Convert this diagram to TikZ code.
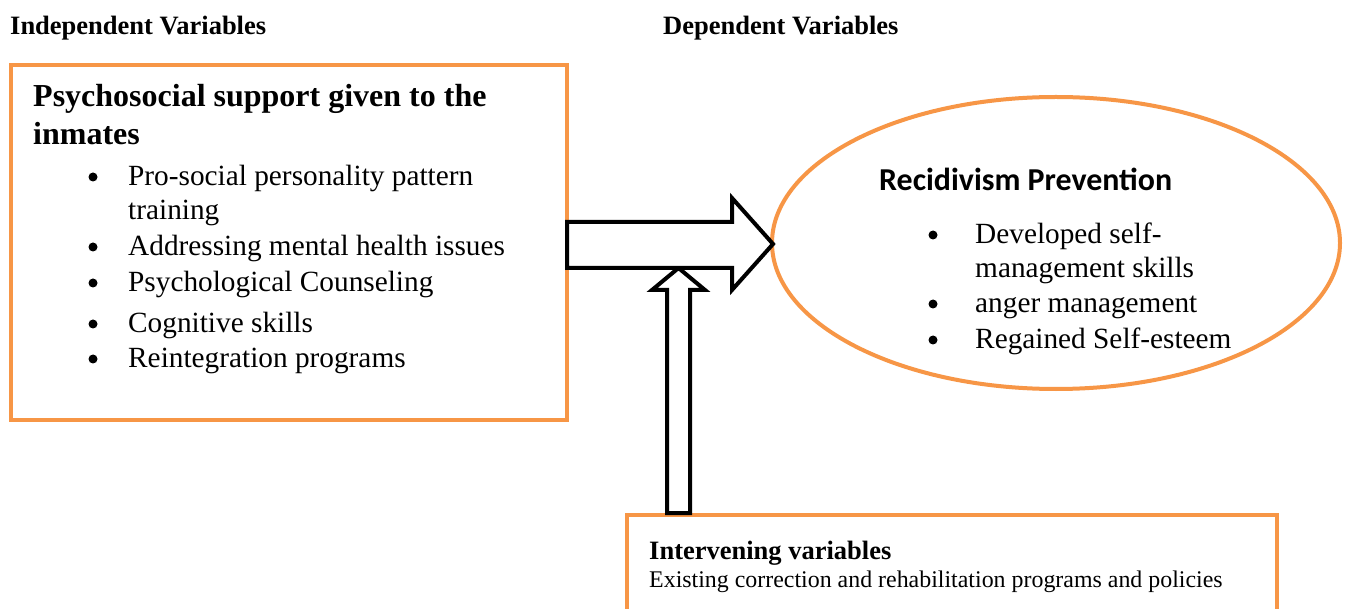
\documentclass[tikz,border=0pt]{standalone}
\usepackage{fontspec}
\setmainfont{Liberation Serif}
\newfontfamily\calib{Carlito}
\usetikzlibrary{calc}
\definecolor{orng}{HTML}{F79646}
\tikzset{
  box/.style={draw=orng, line width=4pt},
  blockarrow/.style={draw=black, fill=white, line width=4pt, line join=miter},
  txt/.style={anchor=base west, inner sep=0pt, text=black},
  hdr/.style={txt, font=\fontsize{26.5}{30}\selectfont\bfseries},
  ttl/.style={txt, font=\fontsize{32}{37}\selectfont\bfseries},
  body/.style={txt, font=\fontsize{29.3}{34}\selectfont},
  dot/.style={circle, fill=black, inner sep=0pt, minimum size=9pt}
}
\begin{document}
\begin{tikzpicture}[x=1pt,y=-1pt]
\useasboundingbox (0,0) rectangle (1349,609);
\clip (0,0) rectangle (1349,609);
\fill[white] (0,0) rectangle (1349,609);

% headers
\node[hdr] (hind) at (10,35) {Independent Variables};
\node[hdr] (hdep) at (663,35) {Dependent Variables};

% left box
\draw[box] (11,65) rectangle (567,420);
\node[ttl] (t1) at (33,107) {Psychosocial support given to the};
\node[ttl] (t2) at (33,145) {inmates};
\foreach \y/\t/\b [count=\i] in {186/Pro-social personality pattern/1, 220/training/0, 256/Addressing mental health issues/1, 292/Psychological Counseling/1, 333/Cognitive skills/1, 368/Reintegration programs/1}{
  \node[body] (l\i) at (128,\y) {\t};
  \ifnum\b=1 \node[dot] (ld\i) at (93,\y-9) {};\fi
}

% ellipse
\draw[box] (1056,243) ellipse [x radius=284, y radius=146];
\node[txt, font=\fontsize{31.9}{36}\selectfont\calib\bfseries] (rp) at (879,191) {Recidivism Prevention};
\foreach \y/\t/\b [count=\i] in {244/Developed self-/1, 278/management skills/0, 313/anger management/1, 349/Regained Self-esteem/1}{
  \node[body] (r\i) at (975,\y) {\t};
  \ifnum\b=1 \node[dot] (rd\i) at (933,\y-9) {};\fi
}

% bottom box
\draw[box] (627,515) rectangle (1277,660);
\node[txt, font=\fontsize{26.5}{30}\selectfont\bfseries] (iv) at (649,559) {Intervening variables};
\node[txt, font=\fontsize{23.9}{28}\selectfont] (ivt) at (649,587) {Existing correction and rehabilitation programs and policies};

% up block arrow
\draw[blockarrow] (667,513) -- (667,290) -- (652,290) -- (678.5,268) -- (705,290) -- (690,290) -- (690,513) -- cycle;
% right block arrow
\draw[blockarrow] (567,222) -- (732,222) -- (732,198) -- (773,244) -- (732,290) -- (732,268) -- (567,268) -- cycle;
\end{tikzpicture}
\end{document}
